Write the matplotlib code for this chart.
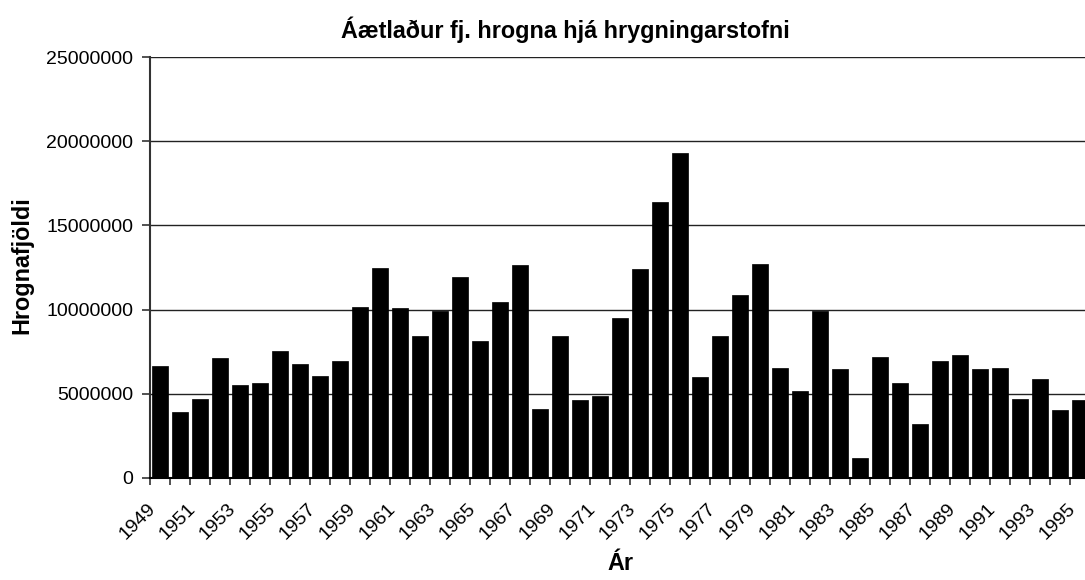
import matplotlib.pyplot as plt
import numpy as np
from matplotlib.transforms import ScaledTranslation

plt.rcParams['font.family'] = ['Liberation Sans', 'DejaVu Sans']

# Years and estimated number of eggs
years = list(range(1949, 1996))
eggs = [6680000, 3940000, 4690000, 7150000, 5530000, 5650000, 7550000, 6780000,
        6080000, 6950000, 10160000, 12460000, 10100000, 8440000, 9940000, 11930000,
        8140000, 10460000, 12660000, 4120000, 8460000, 4640000, 4850000, 9490000,
        12420000, 16400000, 19290000, 5980000, 8440000, 10880000, 12720000, 6540000,
        5190000, 9890000, 6460000, 1210000, 7210000, 5670000, 3210000, 6970000,
        7290000, 6460000, 6540000, 4680000, 5900000, 4040000, 4640000]
yticks = [0, 5000000, 10000000, 15000000, 20000000, 25000000]

W, H = 1085, 580
fig = plt.figure(figsize=(W / 100, H / 100), dpi=100)
# plot area runs a little past the right edge, as in the original crop
ax = fig.add_axes([150 / W, 102 / H, 940 / W, 421 / H])

x = np.arange(len(years))
ax.bar(x, eggs, width=0.8, color='black', edgecolor='black', linewidth=0.5, zorder=3)

ax.set_xlim(-0.5, len(years) - 0.5)
ax.set_ylim(0, 25000000)
ax.set_yticks(yticks)
ax.set_yticklabels([str(v) for v in yticks], fontsize=14)
ax.yaxis.grid(True, color='#222222', linewidth=1.0, zorder=0)
ax.tick_params(axis='y', length=6, width=1.2, pad=6, color='#333333')

ax.set_xticks(x[::2])
ax.set_xticklabels([str(y) for y in years[::2]], rotation=45, ha='right',
                   va='center', rotation_mode='anchor', fontsize=14)
ax.set_xticks(np.arange(len(years) + 1) - 0.5, minor=True)
ax.tick_params(axis='x', which='major', length=0, pad=20)
ax.tick_params(axis='x', which='minor', length=5, width=1.2, color='#333333')
shift = ScaledTranslation(-7 / 100, 0, fig.dpi_scale_trans)
for lab in ax.get_xticklabels():
    lab.set_transform(lab.get_transform() + shift)

for s in ['top', 'right']:
    ax.spines[s].set_visible(False)
ax.spines['left'].set_linewidth(1.5)
ax.spines['left'].set_color('#333333')
ax.spines['bottom'].set_linewidth(1.5)

fig.text(565 / W, 1 - 30 / H, 'Áætlaður fj. hrogna hjá hrygningarstofni',
         ha='center', va='center', fontsize=16.8, fontweight='bold')
fig.text(620 / W, 1 - 563 / H, 'Ár', ha='center', va='center',
         fontsize=16.8, fontweight='bold')
fig.text(22 / W, 1 - 265 / H, 'Hrognafjöldi', ha='center', va='center',
         rotation=90, fontsize=16.8, fontweight='bold')

fig.savefig('out.png', dpi=100)
